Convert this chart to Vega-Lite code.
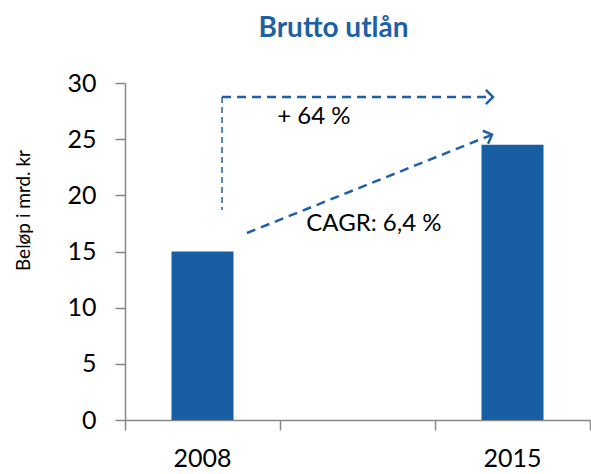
{
  "$schema": "https://vega.github.io/schema/vega-lite/v6.json",
  "width": 465,
  "height": 337,
  "autosize": "none",
  "padding": {"left": 125, "top": 83, "right": 1, "bottom": 54},
  "config": {"view": {"stroke": null}, "font": "Lato", "axis": {"labelFont": "Lato", "titleFont": "Lato"}},
  "title": {"text": "Brutto utlån", "fontSize": 28, "fontWeight": "bold", "color": "#1F5FA3", "font": "Lato", "anchor": "middle", "dx": -24, "offset": 28},
  "datasets": {
    "bars": [
      {"year": "2008", "value": 15},
      {"year": "2015", "value": 24.5}
    ],
    "arrows": [
      {"x": 0.626, "y": 28.75, "x2": 2.37, "y2": 28.75},
      {"x": 0.787, "y": 16.65, "x2": 2.368, "y2": 25.4}
    ],
    "guide": [
      {"x": 0.626, "y": 28.75, "x2": 0.626, "y2": 18.7}
    ],
    "heads": [
      {"x": 2.374, "y": 28.75, "angle": 0},
      {"x": 2.368, "y": 25.4, "angle": -21.8}
    ],
    "labels": [
      {"x": 1.219, "y": 26.97, "text": "+ 64 %"},
      {"x": 1.606, "y": 17.45, "text": "CAGR: 6,4 %"}
    ]
  },
  "layer": [
    {
      "data": {"name": "bars"},
      "mark": {"type": "bar", "width": {"band": 0.4}, "color": "#175EA2"},
      "encoding": {
        "x": {
          "field": "year", "type": "nominal",
          "scale": {"domain": ["2008", " ", "2015"], "paddingInner": 0, "paddingOuter": 0},
          "axis": {"title": null, "ticks": false, "labelAngle": 0, "labelFontSize": 25, "labelColor": "#000", "labelPadding": 26, "domainColor": "#888", "domainWidth": 1.5}
        },
        "y": {
          "field": "value", "type": "quantitative",
          "scale": {"domain": [0, 30], "nice": false},
          "axis": {
            "values": [0, 5, 10, 15, 20, 25, 30], "tickSize": 10, "tickColor": "#888", "tickWidth": 1.5,
            "domainColor": "#888", "domainWidth": 1.5, "grid": false,
            "labelFontSize": 25, "labelColor": "#000", "labelPadding": 19,
            "title": "Beløp i mrd. kr", "titleFontSize": 19, "titleFontWeight": "normal", "titleColor": "#000",
            "titleX": -102, "titleY": 127, "titleAngle": -90, "titleAlign": "center", "titleBaseline": "middle"
          }
        }
      }
    },
    {
      "layer": [
        {
          "data": {"name": "arrows"},
          "mark": {"type": "rule", "color": "#1F5FA6", "strokeWidth": 2.5, "strokeDash": [9, 6]},
          "encoding": {
            "x": {"field": "x", "type": "quantitative", "scale": {"domain": [0, 3], "nice": false, "zero": false},
              "axis": {"orient": "bottom", "values": [0, 1, 2, 3], "labels": false, "domain": false, "tickSize": 10, "tickColor": "#888", "tickWidth": 1.5, "title": null, "grid": false}},
            "y": {"field": "y", "type": "quantitative"},
            "x2": {"field": "x2"},
            "y2": {"field": "y2"}
          }
        },
        {
          "data": {"name": "guide"},
          "mark": {"type": "rule", "color": "#1F5FA6", "strokeWidth": 1.5, "strokeDash": [6, 4]},
          "encoding": {
            "x": {"field": "x", "type": "quantitative"},
            "y": {"field": "y", "type": "quantitative"},
            "x2": {"field": "x2"},
            "y2": {"field": "y2"}
          }
        },
        {
          "data": {"name": "heads"},
          "mark": {"type": "point", "shape": "M-1,-1L0,0L-1,1", "filled": false, "color": "#1F5FA6", "strokeWidth": 2.5, "size": 200, "opacity": 1},
          "encoding": {
            "x": {"field": "x", "type": "quantitative"},
            "y": {"field": "y", "type": "quantitative"},
            "angle": {"field": "angle", "type": "quantitative", "scale": null}
          }
        },
        {
          "data": {"name": "labels"},
          "mark": {"type": "text", "fontSize": 24, "color": "#000", "font": "Lato", "align": "center", "baseline": "middle"},
          "encoding": {
            "x": {"field": "x", "type": "quantitative"},
            "y": {"field": "y", "type": "quantitative"},
            "text": {"field": "text"}
          }
        }
      ]
    }
  ],
  "resolve": {"scale": {"x": "independent"}}
}
